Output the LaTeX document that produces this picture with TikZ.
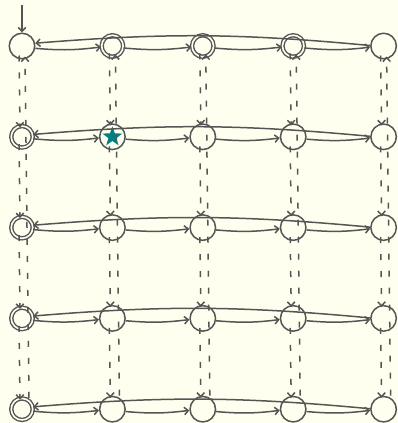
\documentclass[tikz,border=0pt]{standalone}
\usetikzlibrary{arrows.meta,shapes.geometric}
\definecolor{bg}{RGB}{255,255,240}
\definecolor{ink}{RGB}{85,85,85}
\definecolor{starc}{RGB}{0,128,128}
\begin{document}
\begin{tikzpicture}[x=1pt,y=-1pt,
  state/.style={circle,draw=ink,line width=1.5pt,minimum size=25.5pt,inner sep=0pt},
  acc/.style={circle,draw=ink,line width=1.4pt,double=bg,double distance=1.6pt,minimum size=21.5pt,inner sep=0pt},
  arr/.style={draw=ink,line width=1.5pt,-{Straight Barb[length=4pt,width=7.5pt]}},
  darr/.style={arr,dash pattern=on 6pt off 11pt},
  starnode/.style={star,star points=5,star point ratio=2.5,fill=starc,draw=none,minimum size=21pt,inner sep=0pt}]
\fill[bg] (0,0) rectangle (398,423);
\useasboundingbox (0,0) rectangle (398,423);
\foreach \r in {1,...,5}{
  \foreach \c in {1,...,5}{
    \pgfmathsetmacro{\xx}{22+90.4*(\c-1)}
    \pgfmathsetmacro{\yy}{46+90.8*(\r-1)}
    \ifnum\r=1
      \ifnum\c=1 \node[state] (n\r\c) at (\xx,\yy) {};
      \else\ifnum\c=5 \node[state] (n\r\c) at (\xx,\yy) {};
      \else \node[acc] (n\r\c) at (\xx,\yy) {};
      \fi\fi
    \else
      \ifnum\c=1 \node[acc] (n\r\c) at (\xx,\yy) {};
      \else \node[state] (n\r\c) at (\xx,\yy) {};
      \fi
    \fi
  }
}
\node[starnode] (st) at (n22.center) {};
\coordinate (init) at (22,5);
\draw[arr] (init) -- (n11.north);
\foreach \r in {1,...,5}{
  \foreach \c/\d in {1/2,2/3,3/4,4/5}{
    \draw[arr] (n\r\c.-10) to[bend right=6] (n\r\d.-175);
  }
  \draw[arr] (n\r5.178) to[bend right=5] (n\r1.12);
}
\foreach \c in {1,...,5}{
  \foreach \r/\s in {1/2,2/3,3/4,4/5}{
    \draw[darr] ([xshift=-3pt,yshift=4pt]n\r\c.south) -- ([xshift=-2pt,yshift=-2pt]n\s\c.north);
  }
  \draw[darr] ([xshift=7pt]n5\c.north) -- ([xshift=3pt,yshift=3pt]n1\c.south);
}
\end{tikzpicture}
\end{document}
